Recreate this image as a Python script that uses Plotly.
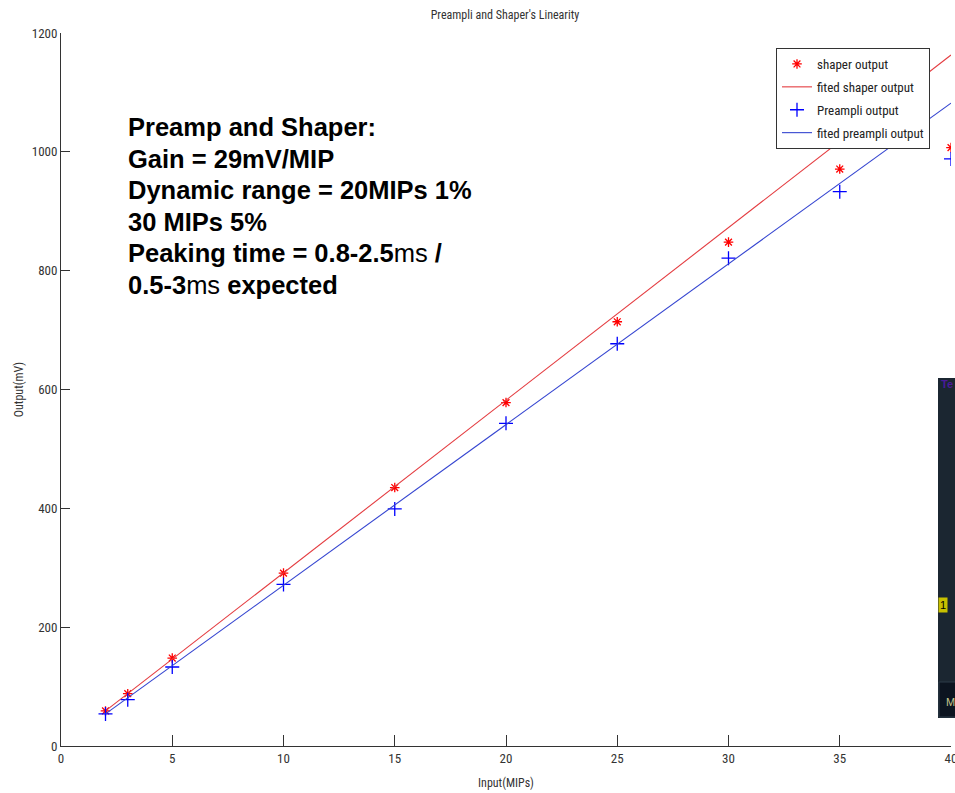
import plotly.graph_objects as go

# ---- data ----
input_mips = [2, 3, 5, 10, 15, 20, 25, 30, 35, 40]
shaper_output = [59, 88, 148, 291, 435, 578, 714, 848, 971, 1007]
preampli_output = [54, 78, 133, 272, 399, 543, 677, 821, 933, 988]

fit_x = [2, 40]
fit_shaper = [59, 1163]
fit_preampli = [54, 1082]

x_ticks = [0, 5, 10, 15, 20, 25, 30, 35, 40]
y_ticks = [0, 200, 400, 600, 800, 1000, 1200]

note_lines = [
    "<b>Preamp and Shaper:</b>",
    "<b>Gain = 29mV/MIP</b>",
    "<b>Dynamic range = 20MIPs 1%</b>",
    "<b>30 MIPs 5%</b>",
    "<b>Peaking time = 0.8-2.5</b>ms <b>/</b>",
    "<b>0.5-3</b>ms <b>expected</b>",
]

W, H = 955, 793
L, R, T, B = 61, 4, 33, 47
PW, PH = W - L - R, H - T - B


def px_x(p):
    return (p - L) / PW


def px_y(p):
    return (H - B - p) / PH


narrow = ("Liberation Sans Narrow, Arial Narrow, Roboto Condensed, "
          "DejaVu Sans Condensed, Liberation Sans, Arial")
tick_color = "#333333"

fig = go.Figure()
fig.add_trace(go.Scatter(
    x=input_mips, y=shaper_output, mode="markers", name="shaper output",
    legendgroup="a",
    marker=dict(symbol="asterisk-open", size=8, color="red",
                line=dict(color="red", width=1.3)),
))
fig.add_trace(go.Scatter(
    x=fit_x, y=fit_shaper, mode="lines", name="fited shaper output",
    legendgroup="b",
    line=dict(color="#e43c40", width=1.1),
))
fig.add_trace(go.Scatter(
    x=input_mips, y=preampli_output, mode="markers", name="Preampli output",
    legendgroup="c",
    marker=dict(symbol="cross-thin-open", size=10, color="blue",
                line=dict(color="blue", width=1.3)),
))
fig.add_trace(go.Scatter(
    x=fit_x, y=fit_preampli, mode="lines", name="fited preampli output",
    legendgroup="d",
    line=dict(color="#3444d0", width=1.1),
))

annotations = []
for i, line in enumerate(note_lines):
    annotations.append(dict(
        x=px_x(126), y=px_y(127 + 31.6 * i), xref="paper", yref="paper",
        xanchor="left", yanchor="middle", text=line, showarrow=False,
        font=dict(family="Liberation Sans, Arial", size=25.5, color="black"),
    ))

annotations.append(dict(
    x=px_x(938), y=px_y(605), xref="paper", yref="paper", xanchor="left",
    yanchor="middle", text="1", showarrow=False,
    font=dict(family="Liberation Sans", size=11, color="black"),
    bgcolor="#c8c000", borderpad=1,
))
annotations.append(dict(
    x=px_x(944), y=px_y(702), xref="paper", yref="paper", xanchor="left",
    yanchor="middle", text="M", showarrow=False,
    font=dict(family="Liberation Sans", size=11, color="#c8c890"),
))
annotations.append(dict(
    x=px_x(939), y=px_y(384), xref="paper", yref="paper", xanchor="left",
    yanchor="middle", text="<b>Te</b>", showarrow=False,
    font=dict(family="Liberation Sans", size=11, color="#4a1a9a"),
))

shapes = [
    dict(type="rect", xref="paper", yref="paper",
         x0=px_x(938), x1=px_x(958), y0=px_y(718), y1=px_y(378),
         fillcolor="#1b2631", line=dict(width=0), layer="above"),
    dict(type="rect", xref="paper", yref="paper",
         x0=px_x(939), x1=px_x(958), y0=px_y(717), y1=px_y(682),
         fillcolor="#0c1420", line=dict(color="#2c3a48", width=1), layer="above"),
]

fig.update_layout(
    width=W, height=H,
    margin=dict(l=L, r=R, t=T, b=B, autoexpand=False),
    paper_bgcolor="white", plot_bgcolor="white",
    title=dict(text="Preampli and Shaper's Linearity", x=(505) / W,
               xanchor="center", y=1 - 15 / H, yanchor="middle",
               font=dict(family=narrow, size=12, color="#333333")),
    showlegend=True,
    legend=dict(x=px_x(776), y=px_y(48), xanchor="left", yanchor="top",
                bgcolor="white", bordercolor="#333333", borderwidth=1,
                font=dict(family=narrow, size=13, color="#222222"),
                tracegroupgap=3, itemwidth=30),
    annotations=annotations,
    shapes=shapes,
    xaxis=dict(range=[0, 40], tickvals=x_ticks, ticks="inside", ticklen=11,
               tickcolor="#333333", showline=True, linecolor="#333333",
               linewidth=1, showgrid=False, zeroline=False, mirror=False,
               ticklabeloverflow="allow", automargin=False,
               tickfont=dict(family=narrow, size=13, color=tick_color),
               title=dict(text="Input(MIPs)", standoff=14,
                          font=dict(family=narrow, size=12, color="#333333"))),
    yaxis=dict(range=[0, 1200], tickvals=y_ticks, ticks="inside", ticklen=9,
               tickcolor="#333333", showline=True, linecolor="#333333",
               linewidth=1, showgrid=False, zeroline=False, mirror=False,
               automargin=False,
               tickfont=dict(family=narrow, size=13, color=tick_color),
               title=dict(text="Output(mV)", standoff=5,
                          font=dict(family=narrow, size=12, color="#333333"))),
)

fig.write_html("out.html")
